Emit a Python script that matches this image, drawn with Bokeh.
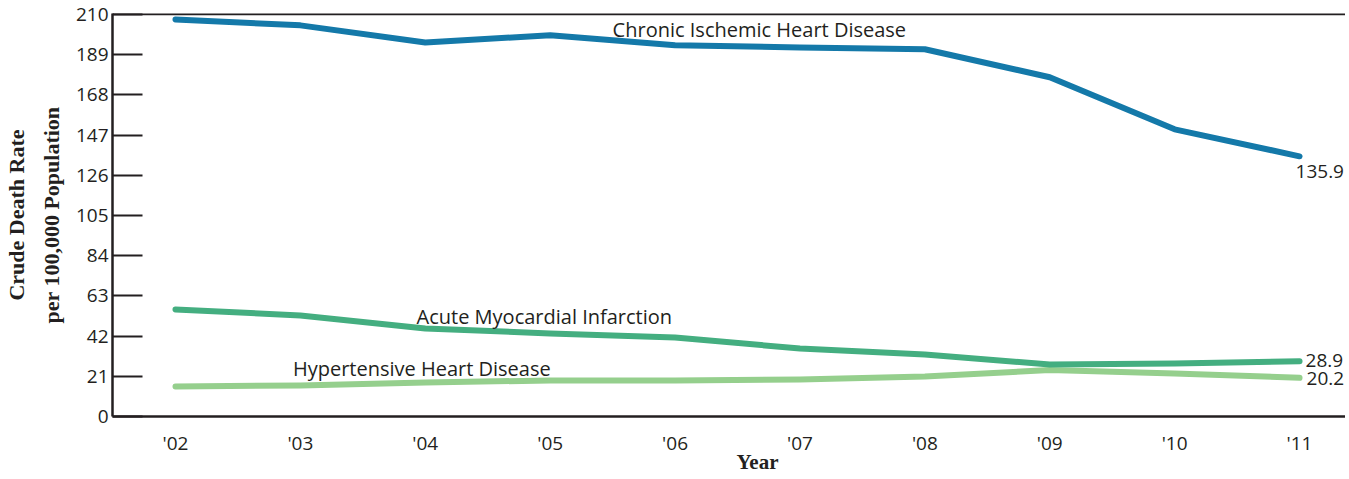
from bokeh.plotting import figure
from bokeh.models import Range1d, FixedTicker, Span, Label, LinearAxis
from bokeh.embed import file_html
from bokeh.resources import INLINE

years = [2002, 2003, 2004, 2005, 2006, 2007, 2008, 2009, 2010, 2011]
year_labels = ["'02", "'03", "'04", "'05", "'06", "'07", "'08", "'09", "'10", "'11"]
y_ticks = [0, 21, 42, 63, 84, 105, 126, 147, 168, 189, 210]

chronic_ihd = [207.4, 204.3, 195.4, 199.1, 193.9, 192.8, 191.8, 177.2, 150.0, 135.9]
acute_mi = [55.9, 52.8, 46.0, 43.4, 41.3, 35.5, 32.4, 27.2, 27.7, 28.9]
hypertensive = [15.7, 16.2, 17.8, 18.8, 18.8, 19.3, 20.9, 24.3, 22.5, 20.2]

series_names = ["Chronic Ischemic Heart Disease", "Acute Myocardial Infarction", "Hypertensive Heart Disease"]
end_labels = ["135.9", "28.9", "20.2"]
x_title = "Year"

TXT = "#231F20"
C_BLUE = "#1479A9"
C_GREEN = "#44AE80"
C_LIGHT = "#95CF8D"

p = figure(width=1345, height=478,
           x_range=Range1d(2001.4956, 2011.368), y_range=Range1d(0, 210.5),
           output_backend="svg", toolbar_location=None,
           min_border_left=112, min_border_right=0, min_border_top=13, min_border_bottom=62)
p.outline_line_color = None
p.grid.grid_line_color = None
p.background_fill_color = "white"
p.border_fill_color = "white"

# y axis
ya = p.yaxis[0]
ya.ticker = FixedTicker(ticks=y_ticks)
ya.major_tick_in = 30
ya.major_tick_out = 0
ya.major_tick_line_width = 2
ya.major_tick_line_color = TXT
ya.minor_tick_line_color = None
ya.axis_line_width = 2.5
ya.axis_line_color = TXT
ya.major_label_standoff = 4
ya.major_label_text_font = "Open Sans"
ya.major_label_text_font_size = "19px"
ya.major_label_text_color = TXT
ya.axis_label = "Crude Death Rate\nper 100,000 Population"
ya.axis_label_text_font = "Liberation Serif"
ya.axis_label_text_font_style = "bold"
ya.axis_label_text_font_size = "22px"
ya.axis_label_text_color = TXT
ya.axis_label_standoff = 9
ya.axis_label_text_line_height = 1.4

# x axis
xa = p.xaxis[0]
xa.ticker = FixedTicker(ticks=years)
xa.major_label_overrides = {y: l for y, l in zip(years, year_labels)}
xa.major_tick_in = 0
xa.major_tick_out = 0
xa.minor_tick_line_color = None
xa.axis_line_width = 2.5
xa.axis_line_color = TXT
xa.major_label_standoff = 13
xa.major_label_text_font = "Open Sans"
xa.major_label_text_font_size = "19px"
xa.major_label_text_color = TXT

# x axis title as a second, line-less axis under the year labels
title_x = 2006.66
ta = LinearAxis(ticker=FixedTicker(ticks=[title_x]),
                major_label_overrides={title_x: x_title},
                axis_line_color=None, major_tick_line_color=None, minor_tick_line_color=None,
                major_tick_in=0, major_tick_out=0, major_label_standoff=-9,
                major_label_text_font="Liberation Serif", major_label_text_font_style="bold",
                major_label_text_font_size="21px", major_label_text_color=TXT)
p.add_layout(ta, "below")

# top frame line
p.add_layout(Span(location=210.2, dimension="width", line_color=TXT, line_width=2.5))

for vals, col in [(hypertensive, C_LIGHT), (acute_mi, C_GREEN), (chronic_ihd, C_BLUE)]:
    p.line(years, vals, line_color=col, line_width=6, line_cap="round", line_join="round")

# series name labels
name_pos = [(2005.5, 202.2), (2003.93, 52.2), (2002.94, 25.1)]
for name, (lx, ly) in zip(series_names, name_pos):
    p.add_layout(Label(x=lx, y=ly, text=name, text_baseline="middle", text_align="left",
                       text_font="Open Sans", text_font_size="20px", text_color=TXT))

# end value labels
end_offsets = [(-4, -15), (6, 1), (7, -1)]
for lab, vals, (dx, dy) in zip(end_labels, [chronic_ihd, acute_mi, hypertensive], end_offsets):
    p.add_layout(Label(x=years[-1], y=vals[-1], x_offset=dx, y_offset=dy, text=lab,
                       text_baseline="middle", text_align="left",
                       text_font="Open Sans", text_font_size="19px", text_color=TXT))

open("out.html", "w").write(file_html(p, INLINE))
